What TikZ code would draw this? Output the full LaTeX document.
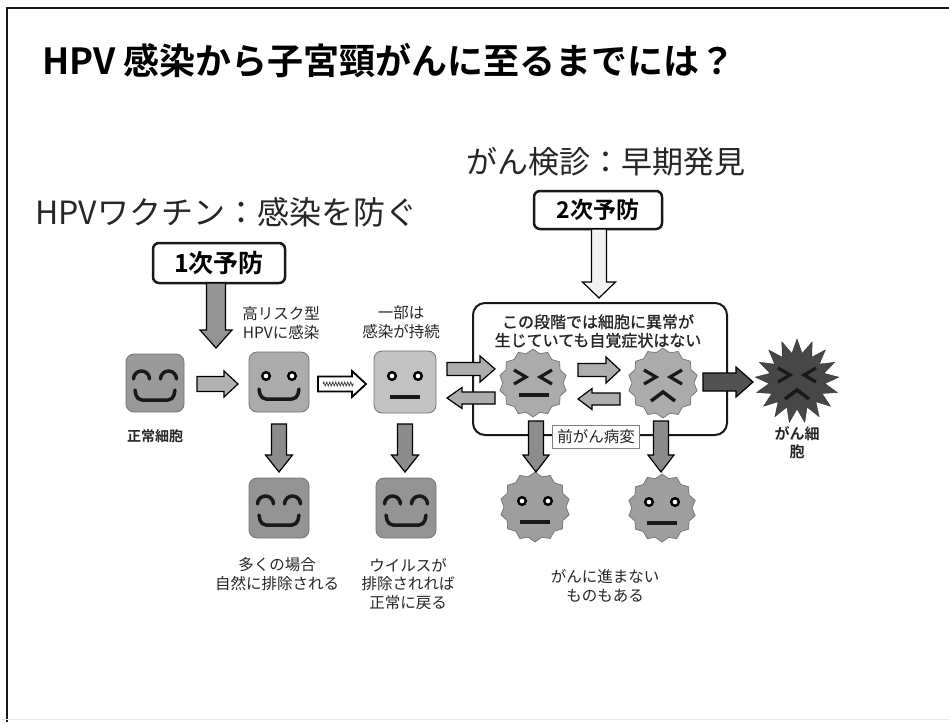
\documentclass[tikz,border=0pt]{standalone}
\usepackage{fontspec}
\setmainfont{Noto Sans CJK JP}[BoldFont={Noto Sans CJK JP Bold}]
\newfontfamily\semibold{Noto Sans CJK JP}[FakeBold=1.2]
\usetikzlibrary{shapes.geometric,calc,decorations.pathmorphing}

% block arrow: [style]{from}{to}{half shaft}{half head}{head length}
\newcommand\blockarrow[6][]{%
  \coordinate (hb) at ($(#3)!#6!(#2)$);
  \draw[#1] ($(#2)!#4!90:(#3)$) -- ($(hb)!#4!90:(#3)$) -- ($(hb)!#5!90:(#3)$)
    -- (#3) -- ($(hb)!#5!-90:(#3)$) -- ($(hb)!#4!-90:(#3)$) -- ($(#2)!#4!-90:(#3)$) -- cycle;
}

\tikzset{
  feat/.style={line width=3.5pt,line cap=round,line join=round,draw=black!90},
  sqface/.style={rectangle,rounded corners=8pt,minimum size=#1,inner sep=0pt,
    draw=black!55,line width=0.8pt},
  spiky/.style={star,star points=14,star point ratio=1.13,minimum size=#1,inner sep=0pt,
    draw=black!55,line width=0.7pt,fill=black!33},
  arr/.style={draw=black,line width=1.2pt,line join=miter},
  label/.style={font=\fontsize{15.5}{18.5}\selectfont,align=center,text=black!85,inner sep=0pt},
  prevbox/.style={draw=black!90,line width=2.5pt,rounded corners=6pt,fill=white,inner sep=0pt},
  pics/happyeyes/.style={code={
    \draw[feat] (-21.5,-4) arc (180:360:8);
    \draw[feat] (5.5,-4) arc (180:360:8);}},
  pics/dotEyes/.style={code={
    \draw[line width=2.4pt,fill=white] (-13,-6) circle (3.8);
    \draw[line width=2.4pt,fill=white] (13,-6) circle (3.8);}},
  pics/smile/.style={code={
    \draw[feat,rounded corners=5pt] (-20,7) -- (-18,17) -- (18,17) -- (20,7);}},
  pics/flat/.style={code={
    \draw[feat,line width=4.5pt,line cap=butt] (-15,15) -- (15,15);}},
  pics/flatmid/.style={code={
    \draw[feat,line width=4.5pt,line cap=butt] (-14,12) -- (16,12);}},
  pics/crossEyes/.style={code={
    \draw[feat,line width=3.2pt,line cap=butt,line join=miter] (-19,-13) -- (-7,-6) -- (-19,1);
    \draw[feat,line width=3.2pt,line cap=butt,line join=miter] (19,-13) -- (7,-6) -- (19,1);}},
  pics/frown/.style={code={
    \draw[feat,line cap=butt,line join=miter] (-12,18) -- (0,9) -- (12,18);}},
}

\begin{document}
\begin{tikzpicture}[x=1pt,y=-1pt]
\useasboundingbox (0,0) rectangle (949,722);
\fill[white] (0,0) rectangle (949,722);

% slide frame
\draw[line width=2.4pt,black!90] (7,722) -- (7,8) -- (949,8);
\draw[line width=1pt,black!8] (0,719) -- (949,719);

% headings
\node[anchor=west,inner sep=0pt,font=\fontsize{36}{40}\selectfont\bfseries] (title) at (42,61)
  {HPV 感染から子宮頸がんに至るまでには？};
\node[inner sep=0pt,font=\fontsize{31}{36}\selectfont,text=black!85] (screen) at (606,162) {がん検診：早期発見};
\node[anchor=west,inner sep=0pt,font=\fontsize{32}{36}\selectfont,text=black!85] (vaccine) at (35,212) {HPVワクチン：感染を防ぐ};

% prevention boxes
\node[prevbox,minimum width=132pt,minimum height=40pt,font=\fontsize{25}{28}\selectfont\bfseries] (p1) at (219,263) {1次予防};
\node[prevbox,minimum width=128pt,minimum height=38pt,font=\fontsize{23}{26}\selectfont\bfseries] (p2) at (598,210) {2次予防};

% stage box
\draw[line width=2pt,black!90,rounded corners=12pt] (473,303) rectangle (727,435);
\node[label,font=\fontsize{16}{18.5}\semibold,text=black!85] (stage) at (598,331)
  {この段階では細胞に異常が\\生じていても自覚症状はない};

% faces
\node[sqface=58pt,fill=black!40] (f1) at (155,383) {};
\pic at (f1) {happyeyes}; \pic at (f1) {smile};
\node[sqface=60pt,fill=black!33] (f2) at (279,382) {};
\pic at (f2) {dotEyes}; \pic at (f2) {smile};
\node[sqface=62pt,fill=black!24] (f3) at (405,382) {};
\pic at (f3) {dotEyes}; \pic at (f3) {flat};
\node[sqface=60pt,fill=black!42] (f4) at (279,508) {};
\pic at (f4) {happyeyes}; \pic at (f4) {smile};
\node[sqface=60pt,fill=black!42] (f5) at (406,508) {};
\pic at (f5) {happyeyes}; \pic at (f5) {smile};

\node[spiky=68pt] (s1) at (533,383) {};
\pic at (s1) {crossEyes}; \pic at (s1) {flatmid};
\node[spiky=70pt] (s2) at (663,383) {};
\pic at (s2) {crossEyes}; \pic at (s2) {frown};
\node[spiky=70pt,fill=black!38] (s3) at (535,507) {};
\pic at (s3) {dotEyes}; \pic at (s3) {flat};
\node[spiky=68pt,fill=black!38] (s4) at (662,508) {};
\pic at (s4) {dotEyes}; \pic at (s4) {flat};

\node[star,star points=17,star point ratio=1.5,minimum size=84pt,inner sep=0pt,
  fill=black!72,draw=black!80] (ca) at (797,381) {};
\pic at (ca) {crossEyes}; \pic at (ca) {frown};

% labels
\node[label,font=\fontsize{14}{17}\selectfont\bfseries] (l1) at (155,436) {正常細胞};
\node[label] (l2) at (281,323) {高リスク型\\HPVに感染};
\node[label] (l3) at (401,322) {一部は\\感染が持続};
\node[label,font=\fontsize{15}{18}\selectfont\bfseries] (l4) at (797,443) {がん細\\胞};
\node[label] (l5) at (277,574) {多くの場合\\自然に排除される};
\node[label] (l6) at (408,584) {ウイルスが\\排除されれば\\正常に戻る};
\node[label] (l7) at (605,586) {がんに進まない\\ものもある};

% arrow end points
\coordinate (d1s) at (216,283); \coordinate (d1e) at (216,348);
\coordinate (d2s) at (599,229); \coordinate (d2e) at (599,298);
\coordinate (a1s) at (197,384); \coordinate (a1e) at (238,384);
\coordinate (a2s) at (318,384); \coordinate (a2e) at (366,384);
\coordinate (a3s) at (447,369); \coordinate (a3e) at (495,369);
\coordinate (a4s) at (495,398); \coordinate (a4e) at (447,398);
\coordinate (a5s) at (578,370); \coordinate (a5e) at (620,370);
\coordinate (a6s) at (620,399); \coordinate (a6e) at (578,399);
\coordinate (a7s) at (703,382); \coordinate (a7e) at (753,382);
\coordinate (d3s) at (279,424); \coordinate (d3e) at (279,472);
\coordinate (d4s) at (405,424); \coordinate (d4e) at (405,472);
\coordinate (d5s) at (536,421); \coordinate (d5e) at (536,472);
\coordinate (d6s) at (661,421); \coordinate (d6e) at (661,472);

% block arrows
\blockarrow[arr,fill=black!42]{d1s}{d1e}{9.5pt}{16pt}{18pt}
\blockarrow[arr,fill=black!5]{d2s}{d2e}{7.5pt}{16.5pt}{16pt}
\blockarrow[arr,fill=black!30]{a1s}{a1e}{7.5pt}{13pt}{14pt}
\blockarrow[arr,line width=1.8pt,fill=white]{a2s}{a2e}{7.5pt}{13pt}{14pt}
\draw[black!70,line width=0.8pt,decorate,decoration={zigzag,amplitude=2pt,segment length=3pt}]
  ($(a2s)+(5,0)$) -- ($(a2e)+(-12,0)$);
\blockarrow[arr,fill=black!32]{a3s}{a3e}{6.5pt}{13pt}{15pt}
\blockarrow[arr,fill=black!32]{a4s}{a4e}{6pt}{10.5pt}{15pt}
\blockarrow[arr,fill=black!32]{a5s}{a5e}{6.5pt}{13pt}{14pt}
\blockarrow[arr,fill=black!32]{a6s}{a6e}{6pt}{10.5pt}{14pt}
\blockarrow[arr,fill=black!68]{a7s}{a7e}{9pt}{15pt}{17pt}
\blockarrow[arr,fill=black!45]{d3s}{d3e}{7.5pt}{13.5pt}{17pt}
\blockarrow[arr,fill=black!45]{d4s}{d4e}{7.5pt}{13.5pt}{17pt}
\blockarrow[arr,fill=black!45]{d5s}{d5e}{7.5pt}{13pt}{17pt}
\blockarrow[arr,fill=black!45]{d6s}{d6e}{7.5pt}{13pt}{17pt}

% precancer label over the box edge
\node[label,fill=white,draw=black!50,line width=1pt,inner xsep=5pt,inner ysep=4pt] (pre) at (596,437) {前がん病変};
\end{tikzpicture}
\end{document}
